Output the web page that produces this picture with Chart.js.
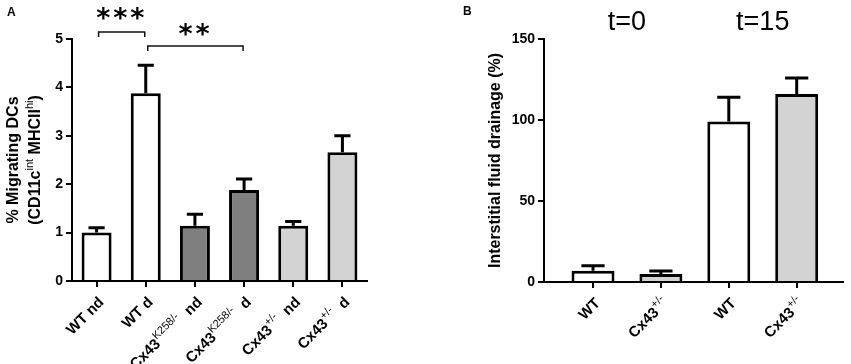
<!DOCTYPE html>
<html>
<head>
<meta charset="utf-8">
<script src="https://cdn.jsdelivr.net/npm/chart.js@4"></script>
<style>
html, body { margin: 0; padding: 0; background: #fff; }
#wrap { position: relative; width: 851px; height: 364px; }
canvas { position: absolute; top: 0; }
</style>
</head>
<body>
<div id="wrap">
  <canvas id="chartA" width="430" height="364" style="left:0"></canvas>
  <canvas id="chartB" width="421" height="364" style="left:430px"></canvas>
</div>
<script>
// ---- Panel A data ----
const aCategories = ['WT nd', 'WT d', 'Cx43^{K258/-}  nd', 'Cx43^{K258/-}  d', 'Cx43^{+/-}  nd', 'Cx43^{+/-}  d'];
const aMeans = [1.0, 3.88, 1.14, 1.88, 1.14, 2.66];
const aErrTop = [1.1, 4.46, 1.38, 2.11, 1.23, 3.0];
const aColors = ['#ffffff', '#ffffff', '#7f7f7f', '#7f7f7f', '#d3d3d3', '#d3d3d3'];
const aTicks = [0, 1, 2, 3, 4, 5];
const aTitle = ['% Migrating DCs', '(CD11c^{int} MHCII^{hi})'];
// significance brackets: [from index, to index, stars]
const aSig = [[0, 1, '***'], [1, 3, '**']];

// ---- Panel B data ----
const bCategories = ['WT', 'Cx43^{+/-}', 'WT', 'Cx43^{+/-}'];
const bMeans = [7, 5, 99, 116];
const bErrTop = [10, 6.8, 114, 126];
const bColors = ['#ffffff', '#d3d3d3', '#ffffff', '#d3d3d3'];
const bTicks = [0, 50, 100, 150];
const bTitle = 'Interstitial fluid drainage (%)';
// time point headers: [text, first index, last index]
const bGroups = [['t=0', 0, 1], ['t=15', 2, 3]];

const FONT = '"Liberation Sans", Arial, sans-serif';

// split "Cx43^{+/-}" into normal / superscript pieces
function parseRich(s) {
    const out = [];
    const re = /\^\{([^}]*)\}/g;
    let last = 0, m;
    while ((m = re.exec(s))) {
        if (m.index > last) out.push({ t: s.slice(last, m.index) });
        out.push({ t: m[1], sup: true });
        last = re.lastIndex;
    }
    if (last < s.length) out.push({ t: s.slice(last) });
    return out;
}
function plain(s) { return s.replace(/\^\{([^}]*)\}/g, '$1'); }

function segFont(s, size) {
    return s.sup ? `${Math.round(size * 0.7)}px ${FONT}` : `bold ${size}px ${FONT}`;
}

// draw rich text with baseline at y=0, aligned around x=0
function drawRich(ctx, text, size, align) {
    const segs = parseRich(text);
    let w = 0;
    segs.forEach(s => {
        ctx.font = segFont(s, size);
        s.w = ctx.measureText(s.t).width;
        w += s.w;
    });
    let x = align === 'right' ? -w : align === 'center' ? -w / 2 : 0;
    ctx.textAlign = 'left';
    ctx.textBaseline = 'alphabetic';
    segs.forEach(s => {
        ctx.font = segFont(s, size);
        ctx.fillText(s.t, x, s.sup ? -size * 0.45 : 0);
        x += s.w;
    });
}

// text whose glyph box is centred on (x, y); optional fixed pitch between characters
function drawCentered(ctx, text, font, x, y, pitch) {
    ctx.font = font;
    ctx.textAlign = 'center';
    ctx.textBaseline = 'alphabetic';
    if (pitch) {
        const adv = ctx.measureText(text[0]).width;
        ctx.letterSpacing = (pitch - adv) + 'px';
    }
    const m = ctx.measureText(text);
    const h = m.actualBoundingBoxAscent + m.actualBoundingBoxDescent;
    const shift = pitch ? (pitch - ctx.measureText(text[0]).width) / 2 : 0;
    ctx.fillText(text, x + shift, y + h / 2 - m.actualBoundingBoxDescent);
    ctx.letterSpacing = '0px';
}

// error bars (upper only) + rotated category labels + axis title
const errorBarPlugin = {
    id: 'errBars',
    afterDatasetsDraw(chart, args, opts) {
        const ctx = chart.ctx;
        const yScale = chart.scales.y;
        const bars = chart.getDatasetMeta(0).data;
        ctx.save();
        ctx.strokeStyle = '#000';
        ctx.lineWidth = 3;
        bars.forEach((bar, i) => {
            const yTop = yScale.getPixelForValue(opts.upper[i]);
            const half = bar.width * 0.27;
            ctx.beginPath();
            ctx.moveTo(bar.x, bar.y);
            ctx.lineTo(bar.x, yTop);
            ctx.moveTo(bar.x - half, yTop);
            ctx.lineTo(bar.x + half, yTop);
            ctx.stroke();
        });
        // x labels, rotated 45 degrees
        ctx.fillStyle = '#000';
        const bottom = chart.chartArea.bottom;
        bars.forEach((bar, i) => {
            ctx.save();
            ctx.translate(bar.x + 8, bottom + 22);
            ctx.rotate(-Math.PI / 4);
            drawRich(ctx, opts.labels[i], 15, 'right');
            ctx.restore();
        });
        // y title lines
        const midY = (chart.chartArea.top + chart.chartArea.bottom) / 2;
        opts.title.forEach((line, k) => {
            ctx.save();
            ctx.translate(opts.titleX[k], midY);
            ctx.rotate(-Math.PI / 2);
            drawRich(ctx, line, 16, 'center');
            ctx.restore();
        });
        // panel letter
        ctx.font = `bold 12px ${FONT}`;
        ctx.textAlign = 'left';
        ctx.textBaseline = 'top';
        ctx.fillText(opts.letter, opts.letterPos[0], opts.letterPos[1]);
        ctx.restore();
    }
};

// significance brackets for panel A
const sigPlugin = {
    id: 'sig',
    afterDraw(chart) {
        const ctx = chart.ctx;
        const xs = chart.scales.x;
        const rows = [{ y: 32, leg: 5, textY: 13 }, { y: 46, leg: 5, textY: 29 }];
        ctx.save();
        ctx.strokeStyle = '#111';
        ctx.fillStyle = '#000';
        ctx.lineWidth = 1.5;
        aSig.forEach(([a, b, stars], k) => {
            const x1 = xs.getPixelForValue(a) + 2;
            const x2 = xs.getPixelForValue(b) - 1;
            const r = rows[k];
            ctx.beginPath();
            ctx.moveTo(x1, r.y + r.leg);
            ctx.lineTo(x1, r.y);
            ctx.lineTo(x2, r.y);
            ctx.lineTo(x2, r.y + r.leg);
            ctx.stroke();
            drawCentered(ctx, stars, `bold 27px "DejaVu Sans", sans-serif`, (x1 + x2) / 2, r.textY, 17);
        });
        ctx.restore();
    }
};

// time point headers for panel B
const groupPlugin = {
    id: 'groups',
    afterDraw(chart) {
        const ctx = chart.ctx;
        const xs = chart.scales.x;
        ctx.save();
        ctx.fillStyle = '#000';
        bGroups.forEach(([txt, a, b]) => {
            const x = (xs.getPixelForValue(a) + xs.getPixelForValue(b)) / 2;
            drawCentered(ctx, txt, `27px ${FONT}`, x, 20);
        });
        ctx.restore();
    }
};

function axisCommon(extra) {
    return Object.assign({
        grid: { drawOnChartArea: false, offset: false, color: '#000', lineWidth: 2, tickLength: 6 },
        border: { color: '#000', width: 2 }
    }, extra);
}

new Chart(document.getElementById('chartA'), {
    type: 'bar',
    data: {
        labels: aCategories.map(plain),
        datasets: [{
            data: aMeans,
            backgroundColor: aColors,
            borderColor: '#000',
            borderWidth: 3,
            barPercentage: 0.61,
            categoryPercentage: 1
        }]
    },
    options: {
        responsive: false,
        animation: false,
        devicePixelRatio: 1,
        layout: { padding: { top: 39, right: 63, left: 0, bottom: 0 } },
        plugins: {
            legend: { display: false },
            tooltip: { enabled: false },
            errBars: { upper: aErrTop, labels: aCategories, title: aTitle, titleX: [18, 40], letter: 'A', letterPos: [7, 7] }
        },
        scales: {
            x: axisCommon({
                offset: true,
                ticks: { display: false },
                afterFit: s => { s.height = 83; }
            }),
            y: axisCommon({
                min: 0, max: 5,
                afterBuildTicks: s => { s.ticks = aTicks.map(v => ({ value: v })); },
                ticks: { color: '#000', padding: 3, font: { family: FONT, size: 14, weight: 'bold' } },
                afterFit: s => { s.width = 72; }
            })
        }
    },
    plugins: [errorBarPlugin, sigPlugin]
});

new Chart(document.getElementById('chartB'), {
    type: 'bar',
    data: {
        datasets: [{
            data: bMeans.map((v, i) => ({ x: i, y: v })),
            backgroundColor: bColors,
            borderColor: '#000',
            borderWidth: 3,
            barPercentage: 0.633,
            categoryPercentage: 1
        }]
    },
    options: {
        responsive: false,
        animation: false,
        devicePixelRatio: 1,
        layout: { padding: { top: 39, right: 8, left: 0, bottom: 0 } },
        plugins: {
            legend: { display: false },
            tooltip: { enabled: false },
            errBars: { upper: bErrTop, labels: bCategories, title: [bTitle], titleX: [70], letter: 'B', letterPos: [33, 6] }
        },
        scales: {
            x: axisCommon({
                type: 'linear',
                offset: false,
                min: -0.722, max: 3.682,
                afterBuildTicks: s => { s.ticks = bCategories.map((c, i) => ({ value: i })); },
                ticks: { display: false },
                afterFit: s => { s.height = 82; }
            }),
            y: axisCommon({
                min: 0, max: 150,
                afterBuildTicks: s => { s.ticks = bTicks.map(v => ({ value: v })); },
                ticks: { color: '#000', padding: 3, font: { family: FONT, size: 14, weight: 'bold' } },
                afterFit: s => { s.width = 114; }
            })
        }
    },
    plugins: [errorBarPlugin, groupPlugin]
});
</script>
</body>
</html>
